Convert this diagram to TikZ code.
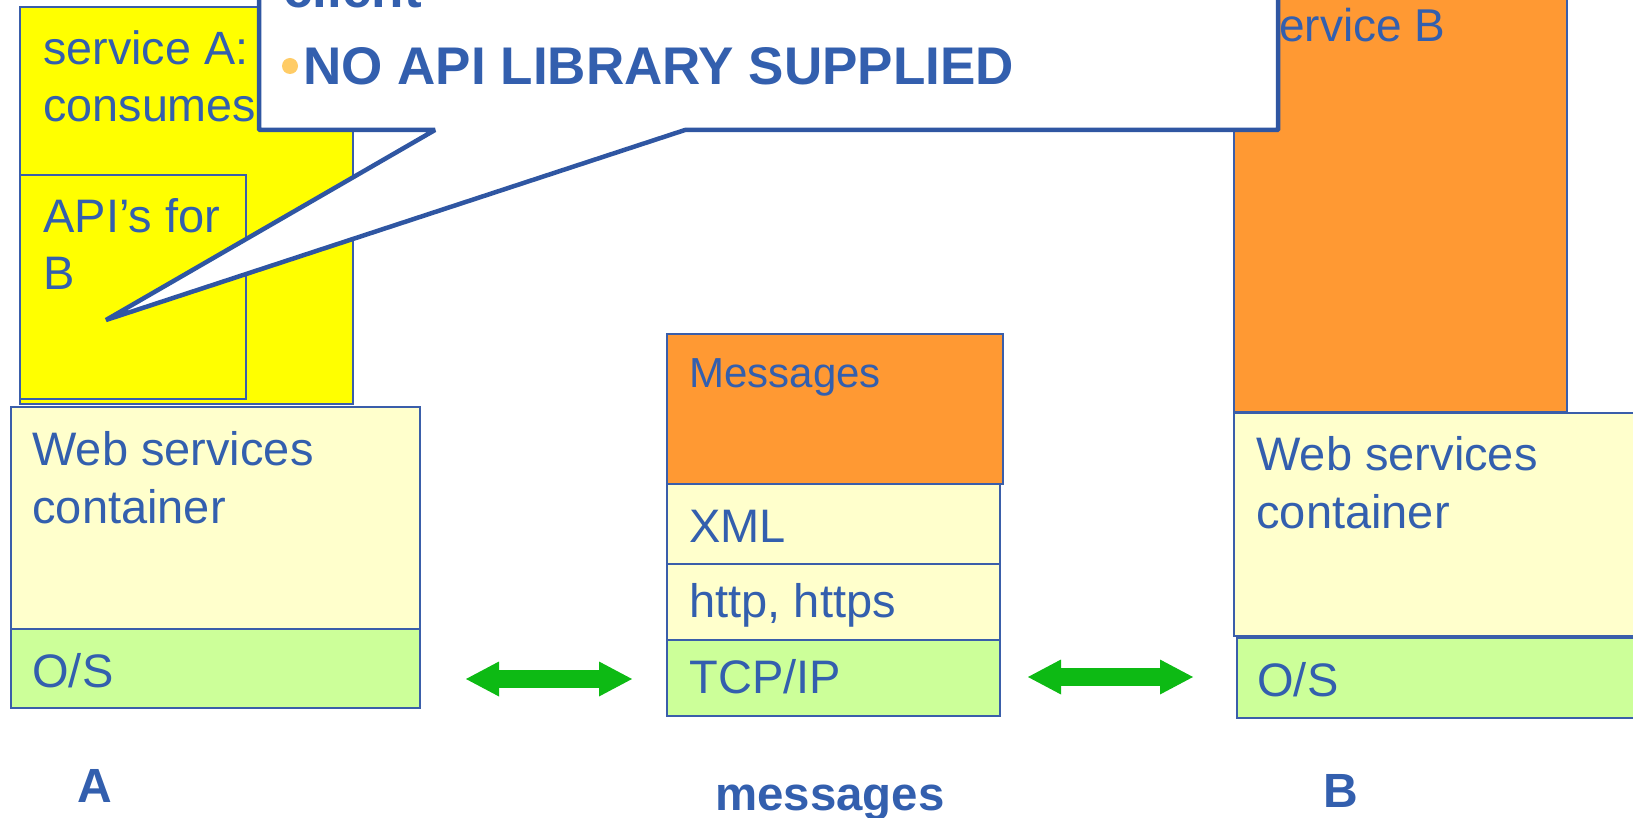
\documentclass[tikz,border=0pt]{standalone}
\usepackage{fontspec}
\setmainfont{Liberation Sans}
\usetikzlibrary{fit,arrows.meta}
\definecolor{textblue}{HTML}{335FAE}
\definecolor{lineblue}{HTML}{3A5EAA}
\definecolor{callblue}{HTML}{2F56A2}
\definecolor{svcyellow}{HTML}{FFFF00}
\definecolor{paleyellow}{HTML}{FFFFCC}
\definecolor{palegreen}{HTML}{CCFF99}
\definecolor{svcorange}{HTML}{FF9933}
\definecolor{arrowgreen}{HTML}{0DBA14}
\definecolor{bulletorange}{HTML}{FFCC66}
\begin{document}
\begin{tikzpicture}[x=0.5pt,y=-0.5pt,
  box/.style={draw=lineblue, line width=0.8pt, inner sep=0pt},
  lbl/.style={inner sep=0pt, anchor=base west, align=left, text=textblue,
    font={\fontsize{23.5pt}{28.75pt}\selectfont}},
  boldlbl/.style={inner sep=0pt, anchor=base west, text=textblue,
    font={\fontsize{24pt}{28pt}\selectfont\bfseries}},
  calltext/.style={inner sep=0pt, anchor=base west, text=textblue,
    font={\fontsize{26.5pt}{32pt}\selectfont\bfseries}},
  bothway/.style={line width=9pt, draw=arrowgreen,
    {Triangle[length=16.5pt,width=17.5pt,line width=0pt]}-{Triangle[length=16.5pt,width=17.5pt,line width=0pt]}}
]
\begin{scope}
\clip (0,0) rectangle (1633,818);

% ---- stack A ----
\node[box, fill=svcyellow, fit={(20,7) (353,404)}] (svcA) {};
\node[box, fill=svcyellow, fit={(20,175) (246,399)}] (apiB) {};
\node[box, fill=paleyellow, fit={(11,407) (420,629)}] (wsA) {};
\node[box, fill=palegreen, fit={(11,629) (420,708)}] (osA) {};

% ---- message stack ----
\node[box, fill=svcorange, fit={(667,334) (1003,484)}] (msg) {};
\node[box, fill=paleyellow, fit={(667,484) (1000,564)}] (xml) {};
\node[box, fill=paleyellow, fit={(667,564) (1000,640)}] (http) {};
\node[box, fill=palegreen, fit={(667,640) (1000,716)}] (tcp) {};

% ---- stack B ----
\node[box, fill=svcorange, fit={(1234,-30) (1567,412)}] (svcB) {};
\node[box, fill=paleyellow, fit={(1234,413) (1660,636)}] (wsB) {};
\node[box, fill=palegreen, fit={(1237,638) (1660,718)}] (osB) {};

% ---- box texts (two-line nodes sit on the baseline of their last line) ----
\node[lbl, font={\fontsize{23.35pt}{28.5pt}\selectfont}] (tSvcA) at (43,122) {service A:\\consumes};
\node[lbl] (tApi) at (43,290) {API’s for\\B};
\node[lbl] (tWsA) at (32,523) {Web services\\container};
\node[lbl] (tOsA) at (32,687) {O/S};
\node[lbl, font={\fontsize{21pt}{26pt}\selectfont}] (tMsg) at (689,387) {Messages};
\node[lbl] (tXml) at (689,542) {XML};
\node[lbl] (tHttp) at (689,617) {http, https};
\node[lbl] (tTcp) at (689,693) {TCP/IP};
\node[lbl, font={\fontsize{23pt}{28pt}\selectfont}] (tSvcB) at (1256,42) {service B};
\node[lbl] (tWsB) at (1256,528) {Web services\\container};
\node[lbl] (tOsB) at (1257,696) {O/S};

% ---- captions ----
\node[boldlbl] (capA) at (77,802) {A};
\node[boldlbl, font={\fontsize{23.7pt}{28pt}\selectfont\bfseries}] (capMsg) at (715,810) {messages};
\node[boldlbl] (capB) at (1323,807) {B};

% ---- exchange arrows ----
\coordinate (l1) at (466,679);
\coordinate (l2) at (632,679);
\coordinate (r1) at (1028,677);
\coordinate (r2) at (1193,677);
\draw[bothway] (l1) -- (l2);
\draw[bothway] (r1) -- (r2);

% ---- callout ----
\draw[callblue, fill=white, line width=2.25pt, line join=bevel]
  (259,-60) -- (1278,-60) -- (1278,130) -- (685,130) -- (106,320)
  -- (435,130) -- (259,130) -- cycle;
\node[calltext] (tClient) at (283,8) {client};
\fill[bulletorange] (290,66) circle[radius=4pt];
\node[calltext] (tNoApi) at (303,85) {NO API LIBRARY SUPPLIED};
\end{scope}
\pgfresetboundingbox
\useasboundingbox (0,0) rectangle (1633,818);
\end{tikzpicture}
\end{document}
